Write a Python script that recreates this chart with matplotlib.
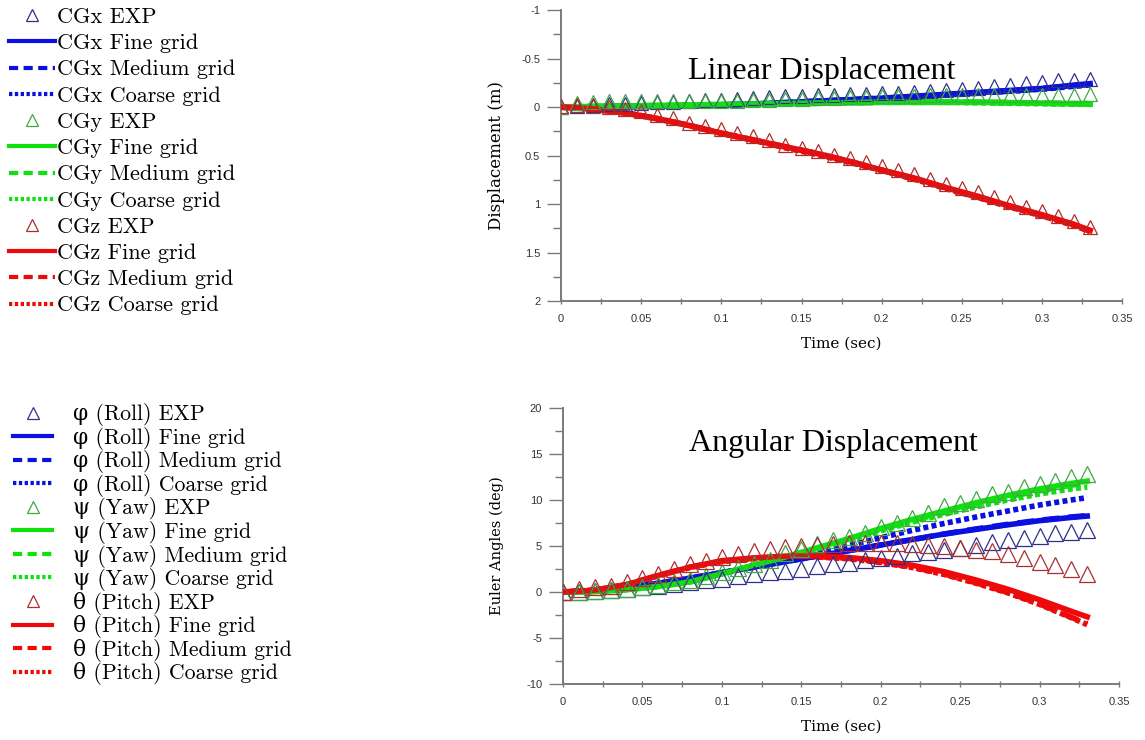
"""Linear and angular displacement: EXP vs fine/medium/coarse CFD grids."""

import matplotlib

matplotlib.use("Agg")
import matplotlib.pyplot as plt
from matplotlib.lines import Line2D
from matplotlib.ticker import MultipleLocator

# ---- data ----------------------------------------------------------------
t_exp = [0.00, 0.01, 0.02, 0.03, 0.04, 0.05, 0.06, 0.07, 0.08, 0.09,
         0.10, 0.11, 0.12, 0.13, 0.14, 0.15, 0.16, 0.17, 0.18, 0.19,
         0.20, 0.21, 0.22, 0.23, 0.24, 0.25, 0.26, 0.27, 0.28, 0.29,
         0.30, 0.31, 0.32, 0.33]
t_cfd = [0.00, 0.02, 0.04, 0.06, 0.08, 0.10, 0.12, 0.14, 0.16, 0.18,
         0.20, 0.22, 0.24, 0.26, 0.28, 0.30, 0.32, 0.33]

# linear displacement (m)
cgx_exp = [0, -0.01, -0.02, -0.03, -0.03, -0.04, -0.05, -0.05, -0.06, -0.07,
           -0.07, -0.08, -0.09, -0.10, -0.11, -0.11, -0.12, -0.12, -0.13, -0.13,
           -0.14, -0.14, -0.16, -0.17, -0.18, -0.19, -0.20, -0.22, -0.23, -0.25,
           -0.26, -0.28, -0.28, -0.29]
cgy_exp = [0, -0.04, -0.05, -0.06, -0.06, -0.06, -0.06, -0.06, -0.06, -0.06,
           -0.06, -0.06, -0.07, -0.07, -0.08, -0.08, -0.09, -0.09, -0.10, -0.10,
           -0.11, -0.11, -0.11, -0.12, -0.12, -0.12, -0.12, -0.12, -0.12, -0.12,
           -0.12, -0.12, -0.12, -0.13]
cgz_exp = [-0.01, -0.02, -0.01, 0.00, 0.02, 0.04, 0.08, 0.11, 0.16, 0.20,
           0.23, 0.27, 0.30, 0.34, 0.39, 0.42, 0.45, 0.49, 0.53, 0.57,
           0.61, 0.65, 0.69, 0.74, 0.79, 0.83, 0.88, 0.93, 0.98, 1.03,
           1.07, 1.12, 1.17, 1.24]

cgx_fine = [0, 0, -0.005, -0.01, -0.01, -0.02, -0.03, -0.045, -0.06, -0.075,
            -0.09, -0.11, -0.13, -0.15, -0.17, -0.19, -0.225, -0.24]
cgx_medium = [0, 0, -0.005, -0.01, -0.01, -0.02, -0.03, -0.045, -0.06, -0.075,
              -0.09, -0.105, -0.125, -0.145, -0.165, -0.19, -0.22, -0.235]
cgx_coarse = [0, 0, -0.005, -0.01, -0.01, -0.02, -0.03, -0.04, -0.055, -0.07,
              -0.085, -0.105, -0.125, -0.145, -0.165, -0.185, -0.215, -0.23]
cgy_fine = [0, -0.005, -0.01, -0.015, -0.02, -0.025, -0.03, -0.035, -0.04, -0.045,
            -0.05, -0.05, -0.05, -0.05, -0.045, -0.04, -0.035, -0.03]
cgy_medium = [0, -0.005, -0.01, -0.015, -0.02, -0.025, -0.03, -0.035, -0.04, -0.045,
              -0.05, -0.05, -0.05, -0.05, -0.045, -0.04, -0.035, -0.035]
cgy_coarse = [0, -0.005, -0.01, -0.015, -0.02, -0.025, -0.03, -0.035, -0.04, -0.045,
              -0.05, -0.05, -0.05, -0.045, -0.04, -0.035, -0.03, -0.03]
cgz_fine = [0, 0.02, 0.06, 0.12, 0.19, 0.27, 0.34, 0.41, 0.48, 0.56,
            0.65, 0.73, 0.83, 0.92, 1.02, 1.11, 1.21, 1.27]
cgz_medium = [0, 0.02, 0.06, 0.12, 0.19, 0.27, 0.34, 0.41, 0.48, 0.56,
              0.65, 0.74, 0.83, 0.93, 1.02, 1.12, 1.21, 1.28]
cgz_coarse = [0, 0.02, 0.06, 0.12, 0.19, 0.27, 0.34, 0.42, 0.49, 0.57,
              0.65, 0.74, 0.84, 0.93, 1.03, 1.12, 1.22, 1.28]

# angular displacement (deg)
roll_exp = [0, 0.05, 0.1, 0.25, 0.35, 0.55, 0.7, 0.9, 1.1, 1.25,
            1.45, 1.7, 1.9, 2.2, 2.3, 2.5, 2.8, 3.0, 3.2, 3.5,
            3.7, 3.9, 4.2, 4.3, 4.6, 4.8, 5.1, 5.4, 5.6, 5.9,
            6.1, 6.4, 6.5, 6.7]
yaw_exp = [0, 0.05, 0.15, 0.25, 0.35, 0.55, 0.8, 1.1, 1.35, 1.7,
           2.2, 2.6, 3.0, 3.5, 4.2, 4.7, 5.2, 5.6, 6.0, 6.4,
           7.1, 7.5, 8.0, 8.6, 9.3, 9.7, 10.1, 10.6, 10.9, 11.4,
           11.7, 12.1, 12.5, 12.8]
pitch_exp = [0, 0.3, 0.5, 0.7, 1.1, 1.5, 2.0, 2.5, 3.0, 3.4,
             3.8, 4.1, 4.4, 4.7, 4.9, 5.0, 5.1, 5.2, 5.3, 5.3,
             5.3, 5.3, 5.2, 5.1, 5.0, 4.8, 4.6, 4.4, 4.1, 3.7,
             3.3, 2.9, 2.5, 2.0]

roll_fine = [0, 0.1, 0.45, 0.95, 1.5, 2.1, 2.7, 3.3, 3.9, 4.5,
             5.1, 5.7, 6.3, 6.8, 7.3, 7.75, 8.1, 8.25]
roll_medium = [0, 0.1, 0.45, 0.95, 1.5, 2.1, 2.7, 3.3, 3.9, 4.5,
               5.1, 5.7, 6.3, 6.85, 7.35, 7.8, 8.15, 8.3]
roll_coarse = [0, 0.1, 0.45, 0.95, 1.5, 2.1, 2.75, 3.45, 4.2, 5.05,
               5.9, 6.7, 7.45, 8.15, 8.8, 9.45, 10.0, 10.25]
yaw_fine = [0, 0.05, 0.25, 0.6, 1.1, 2.0, 2.9, 3.8, 4.8, 5.8,
            6.9, 7.9, 8.8, 9.7, 10.5, 11.2, 11.8, 12.05]
yaw_medium = [0, 0.05, 0.25, 0.6, 1.1, 2.0, 2.9, 3.8, 4.75, 5.75,
              6.8, 7.75, 8.65, 9.55, 10.35, 11.0, 11.6, 11.85]
yaw_coarse = [0, 0.05, 0.25, 0.6, 1.1, 1.95, 2.85, 3.75, 4.7, 5.65,
              6.65, 7.6, 8.45, 9.25, 10.0, 10.65, 11.2, 11.4]
pitch_fine = [0, 0.2, 0.8, 1.8, 2.7, 3.4, 3.7, 3.9, 3.9, 3.75,
              3.4, 2.9, 2.2, 1.3, 0.3, -0.85, -2.1, -2.7]
pitch_medium = [0, 0.2, 0.8, 1.8, 2.7, 3.35, 3.65, 3.85, 3.85, 3.65,
                3.25, 2.7, 1.95, 1.0, -0.05, -1.3, -2.75, -3.45]
pitch_coarse = [0, 0.2, 0.8, 1.75, 2.65, 3.3, 3.6, 3.8, 3.8, 3.6,
                3.2, 2.65, 1.9, 0.95, -0.1, -1.35, -2.8, -3.55]

top_labels = ["CGx EXP", "CGx Fine grid", "CGx Medium grid", "CGx Coarse grid",
              "CGy EXP", "CGy Fine grid", "CGy Medium grid", "CGy Coarse grid",
              "CGz EXP", "CGz Fine grid", "CGz Medium grid", "CGz Coarse grid"]
bot_labels = ["φ (Roll) EXP", "φ (Roll) Fine grid", "φ (Roll) Medium grid",
              "φ (Roll) Coarse grid",
              "ψ (Yaw) EXP", "ψ (Yaw) Fine grid", "ψ (Yaw) Medium grid",
              "ψ (Yaw) Coarse grid",
              "θ (Pitch) EXP", "θ (Pitch) Fine grid", "θ (Pitch) Medium grid",
              "θ (Pitch) Coarse grid"]

# ---- style ---------------------------------------------------------------
LINE_COL = ["#0a10e0", "#10e010", "#ee0a0a"]
EXP_COL = ["#30308a", "#40a840", "#a83030"]
DASHED = (3.0, 1.6)
DOTTED = (0.9, 0.6)
AXIS_GRAY = "#7a7a7a"
SERIF_CM = ["cmr10", "DejaVu Serif"]


def _style_axes(ax, ylim, ymajor, yminor):
    ax.set_xlim(0, 0.35)
    ax.set_ylim(*ylim)
    for side in ("top", "right"):
        ax.spines[side].set_visible(False)
    for side in ("left", "bottom"):
        ax.spines[side].set_color(AXIS_GRAY)
        ax.spines[side].set_linewidth(1.4)
    ax.xaxis.set_major_locator(MultipleLocator(0.05))
    ax.xaxis.set_minor_locator(MultipleLocator(0.025))
    ax.yaxis.set_major_locator(MultipleLocator(ymajor))
    ax.yaxis.set_minor_locator(MultipleLocator(yminor))
    ax.xaxis.set_major_formatter(plt.FuncFormatter(lambda v, p: f"{v:g}"))
    ax.yaxis.set_major_formatter(plt.FuncFormatter(lambda v, p: f"{v:g}"))
    ax.tick_params(axis="y", which="major", direction="out", length=10, width=1,
                   color=AXIS_GRAY, pad=5, labelsize=8, labelcolor="#333333")
    ax.tick_params(axis="y", which="minor", direction="out", length=6, width=1,
                   color=AXIS_GRAY)
    ax.tick_params(axis="x", which="major", direction="inout", length=5, width=1,
                   color=AXIS_GRAY, pad=7, labelsize=8, labelcolor="#333333")
    ax.tick_params(axis="x", which="minor", direction="inout", length=4, width=1,
                   color=AXIS_GRAY)
    for lab in ax.get_xticklabels() + ax.get_yticklabels():
        lab.set_family("Liberation Sans")


def _draw(ax, exp_series, grid_series, lw, ms):
    for i, (fine, medium, coarse) in enumerate(grid_series):
        col = LINE_COL[i]
        ax.plot(t_cfd, coarse, color=col, lw=lw, dashes=DOTTED,
                dash_capstyle="butt", zorder=2)
        ax.plot(t_cfd, medium, color=col, lw=lw, dashes=DASHED,
                dash_capstyle="butt", zorder=2)
        ax.plot(t_cfd, fine, color=col, lw=lw, zorder=3)
    for i, exp in enumerate(exp_series):
        ax.plot(t_exp, exp, ls="none", marker="^", ms=ms, mfc="none",
                mec=EXP_COL[i], mew=0.9, zorder=4)


def _legend_handles():
    handles = []
    for i in range(3):
        handles.append(Line2D([], [], ls="none", marker="^", ms=9, mfc="none",
                              mec=EXP_COL[i], mew=0.9))
        handles.append(Line2D([], [], color=LINE_COL[i], lw=3))
        handles.append(Line2D([], [], color=LINE_COL[i], lw=3, dashes=(2.2, 1.3),
                              dash_capstyle="butt"))
        handles.append(Line2D([], [], color=LINE_COL[i], lw=3, dashes=(0.8, 0.6),
                              dash_capstyle="butt"))
    return handles


def main() -> None:
    fig = plt.figure(figsize=(11.45, 7.40), dpi=100)
    ax_top = fig.add_axes([0.490, 0.593, 0.490, 0.3935])
    ax_bot = fig.add_axes([0.4917, 0.0757, 0.4856, 0.3730])

    _draw(ax_top, [cgx_exp, cgy_exp, cgz_exp],
          [(cgx_fine, cgx_medium, cgx_coarse),
           (cgy_fine, cgy_medium, cgy_coarse),
           (cgz_fine, cgz_medium, cgz_coarse)], lw=4.2, ms=10)
    _draw(ax_bot, [roll_exp, yaw_exp, pitch_exp],
          [(roll_fine, roll_medium, roll_coarse),
           (yaw_fine, yaw_medium, yaw_coarse),
           (pitch_fine, pitch_medium, pitch_coarse)], lw=4.0, ms=12)

    # displacement axis points down (positive CGz below zero)
    _style_axes(ax_top, (2, -1), 0.5, 0.25)
    _style_axes(ax_bot, (-10, 20), 5, 2.5)

    ax_top.text(0.465, 0.79, "Linear Displacement", transform=ax_top.transAxes,
                ha="center", va="center", family="Liberation Serif", fontsize=23)
    ax_bot.text(0.487, 0.873, "Angular Displacement", transform=ax_bot.transAxes,
                ha="center", va="center", family="Liberation Serif", fontsize=23)

    ax_top.set_xlabel("Time (sec)", family="DejaVu Serif", fontsize=11, labelpad=9)
    ax_top.set_ylabel("Displacement (m)", family="DejaVu Serif", fontsize=12,
                      labelpad=12)
    ax_bot.set_xlabel("Time (sec)", family="DejaVu Serif", fontsize=11, labelpad=9)
    ax_bot.set_ylabel("Euler Angles (deg)", family="DejaVu Serif", fontsize=10.5,
                      labelpad=16)

    handles = _legend_handles()
    fig.legend(handles, top_labels, loc="upper left",
               bbox_to_anchor=(0.008, 0.99), frameon=False,
               prop={"family": SERIF_CM, "size": 16}, handlelength=2.05,
               handletextpad=0.12, labelspacing=0.3, borderpad=0.0,
               borderaxespad=0.0)
    fig.legend(handles, bot_labels, loc="upper left",
               bbox_to_anchor=(0.011, 0.455), frameon=False,
               prop={"family": SERIF_CM, "size": 15.7}, handlelength=1.83,
               handletextpad=0.92, labelspacing=0.025, borderpad=0.0,
               borderaxespad=0.0)

    fig.savefig("out.png", dpi=100)
    plt.close(fig)


if __name__ == "__main__":
    main()
